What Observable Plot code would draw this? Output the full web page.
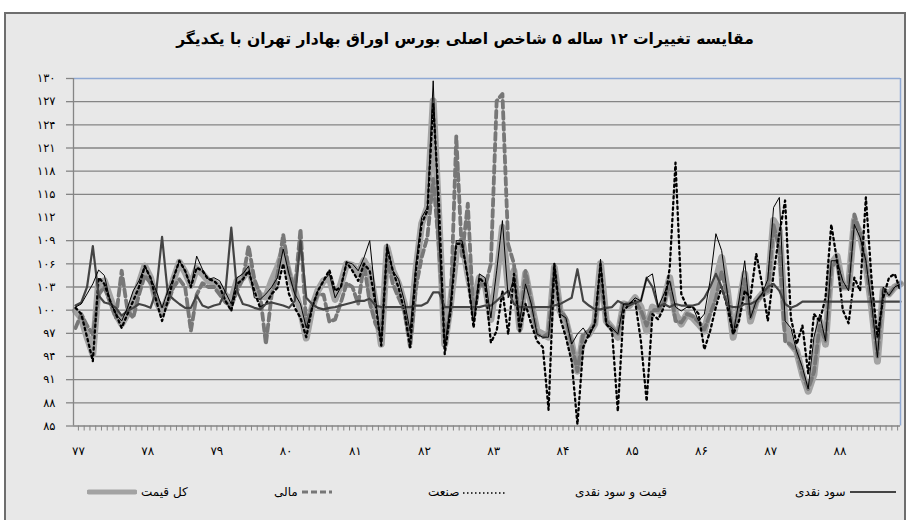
<!DOCTYPE html>
<html><head><meta charset="utf-8">
<script src="https://cdn.jsdelivr.net/npm/d3@7"></script>
<script src="https://cdn.jsdelivr.net/npm/@observablehq/plot@0.6"></script>
<style>
body{margin:0;background:#fff;width:908px;height:520px;overflow:hidden;position:relative;font-family:"DejaVu Sans",sans-serif;}
#box{position:absolute;left:4px;top:12px;width:898px;height:520px;border:2px solid #6e6e6e;background:#e8e8e8;}
#title{position:absolute;left:14px;top:30px;width:902px;text-align:center;font-weight:bold;font-size:15.5px;direction:rtl;color:#000;}
#chart{position:absolute;left:0;top:0;}
#legend{position:absolute;left:0;top:480px;width:908px;height:24px;font-size:12px;}
#legend .it{position:absolute;top:0;height:24px;display:flex;align-items:center;gap:4px;direction:ltr;}
</style></head>
<body>
<div id="box"></div>
<div id="title">مقایسه تغییرات ۱۲ ساله ۵ شاخص اصلی بورس اوراق بهادار تهران با یکدیگر</div>
<div id="chart"></div>
<div id="legend"></div>
<script>
// Years (category labels) and y tick values
const years = [77,78,79,80,81,82,83,84,85,86,87,88];
const yTicks = [85,88,91,94,97,100,103,106,109,112,115,118,121,124,127,130];

// کل قیمت
const kolGheymat = [99.9,99.0,96.5,94.3,103.6,103.8,101.6,99.5,98.2,99.5,101.2,103.4,105.7,104.2,101.2,99.7,101.6,104.0,106.2,104.9,103.2,105.4,104.7,103.8,
103.6,103.0,101.9,101.2,103.8,104.2,105.4,103.0,101.9,101.7,103.8,105.5,107.7,104.7,102.5,100.0,96.4,100.3,102.5,103.8,104.2,101.4,103.4,106.0,
105.8,104.7,106.4,105.1,100.8,95.6,108.1,105.1,103.4,100.8,96.9,105.1,111.2,113.3,127.1,111.6,95.6,100.8,107.5,109.0,104.7,100.8,104.2,103.4,
98.8,104.2,110.7,102.9,105.1,97.7,104.7,100.8,97.3,96.9,96.5,105.5,99.9,98.6,95.6,92.1,96.5,96.9,98.2,106.0,98.6,97.7,96.5,100.8,
100.6,101.6,100.4,97.3,100.4,99.9,101.2,104.2,99.5,98.2,99.5,99.0,98.2,97.3,100.4,103.8,106.8,102.5,96.5,100.4,104.7,98.6,101.2,102.1,
102.5,111.6,110.3,98.2,95.6,94.7,91.7,89.5,91.7,98.6,95.6,106.0,107.0,103.0,103.0,111.6,109.9,106.0,100.3,93.4,102.5,102.1,103.0,103.4];

// مالی
const mali = [97.7,99.5,98.0,96.9,102.0,103.0,101.0,99.0,105.1,100.0,99.0,102.0,104.5,103.5,101.5,100.5,101.0,103.0,104.0,103.0,97.3,102.0,103.5,103.0,
103.0,102.0,101.0,100.5,102.5,104.0,108.3,104.0,102.0,95.6,102.0,104.5,109.8,105.0,102.5,110.5,98.0,100.5,102.0,102.0,98.5,98.8,101.0,103.5,
103.0,100.8,106.0,101.0,98.2,96.9,106.8,103.4,101.6,99.9,95.2,102.9,106.8,109.5,117.0,108.0,96.0,100.0,122.5,107.0,113.8,99.0,103.5,103.0,
106.0,127.1,128.0,108.5,106.0,97.3,105.1,101.0,96.9,96.5,97.0,105.5,100.0,99.0,95.6,92.1,96.9,97.3,98.2,104.2,98.6,97.7,96.9,100.8,
100.8,101.2,100.0,98.0,100.0,100.0,101.0,103.5,98.6,98.4,99.5,99.2,98.5,97.5,99.5,101.5,105.0,102.0,97.0,100.4,104.0,99.0,101.0,102.0,
102.5,111.0,108.0,96.0,95.5,94.7,91.7,89.8,92.0,98.0,96.0,105.5,106.5,103.0,103.0,112.4,110.0,106.0,100.5,94.0,102.5,102.0,103.0,103.5];

// صنعت
const sanat = [100.3,99.5,96.5,93.4,104.2,103.4,101.2,99.5,97.7,99.5,101.2,103.0,105.7,104.2,101.2,98.6,101.2,104.2,106.4,105.1,103.0,105.5,105.1,104.0,
103.8,103.0,101.2,99.9,103.4,104.0,105.1,102.5,100.3,100.8,102.1,102.9,106.0,102.1,100.3,99.0,96.5,100.3,102.5,103.8,105.2,102.5,103.0,106.2,
105.1,103.8,106.0,105.1,100.8,95.4,108.1,105.1,102.9,99.9,95.2,105.1,111.2,112.9,126.7,113.7,94.3,99.9,108.6,108.6,104.2,97.7,104.2,103.4,
95.8,97.3,102.5,96.9,104.7,97.3,100.8,98.2,96.0,95.2,87.1,106.0,99.0,96.5,93.4,85.2,95.2,96.9,98.2,106.0,98.2,97.3,86.9,99.9,
100.8,101.2,96.0,88.2,99.5,98.8,100.4,105.5,119.1,102.1,100.4,100.4,99.5,94.9,97.3,100.4,103.0,100.4,96.9,98.6,102.5,101.6,107.3,103.4,
98.6,104.7,109.9,114.2,99.0,95.6,98.0,91.8,99.5,98.6,101.6,111.1,106.4,100.0,98.3,104.2,102.5,114.6,103.8,96.5,101.6,104.2,104.7,102.5];

// قیمت و سود نقدی
const gheymatSood = [100.4,100.8,102.1,103.4,105.2,104.5,101.2,99.5,98.6,100.3,102.5,103.8,105.7,104.2,102.5,100.3,102.5,104.2,106.4,105.1,103.0,107.0,105.3,104.0,
104.2,103.8,102.3,100.8,104.2,104.7,105.7,101.6,101.4,102.1,103.0,104.2,107.9,104.7,102.1,100.8,97.7,100.3,102.5,103.8,104.7,101.6,103.0,106.2,
106.0,105.1,106.8,109.0,101.6,95.4,108.6,105.1,104.0,101.2,97.3,106.0,112.0,113.3,129.7,109.4,95.2,100.8,109.0,109.0,104.2,98.2,104.7,104.2,
99.0,105.1,111.6,101.6,104.2,98.6,103.4,100.8,96.9,96.5,96.5,106.0,99.5,99.0,95.6,96.9,97.7,96.5,98.2,106.6,98.2,97.7,96.9,100.8,
100.8,101.6,101.2,104.2,104.7,100.4,102.1,103.8,100.4,99.9,100.4,100.4,98.6,99.5,103.8,109.9,107.7,102.1,96.9,101.2,106.4,99.0,101.2,102.1,
104.0,113.3,114.6,98.6,97.7,94.7,92.6,89.8,96.5,99.5,96.0,106.4,106.4,103.8,102.5,111.1,109.4,106.4,100.8,93.9,103.0,101.9,103.0,103.4];

// سود نقدی
const soodNaghdi = [100.6,101.0,103.0,108.3,101.9,101.0,100.8,100.3,99.3,99.9,100.3,100.8,100.6,100.3,102.5,109.5,102.1,101.4,100.8,100.3,100.3,101.9,100.6,100.3,
100.6,100.8,102.5,110.7,102.5,100.8,100.6,100.3,100.1,100.8,101.0,100.8,100.6,100.3,101.2,109.0,101.6,100.8,100.3,100.1,100.3,100.4,100.6,100.8,
101.0,101.2,101.2,101.5,100.6,100.4,100.4,100.4,100.4,100.4,100.4,100.6,100.6,101.0,102.3,102.3,100.4,100.4,100.4,100.4,100.4,100.4,100.4,100.6,
100.6,101.2,101.9,102.5,100.8,100.4,100.4,100.4,100.4,100.4,100.4,100.6,100.8,101.2,101.6,105.3,101.2,100.6,100.1,100.1,100.3,100.4,101.2,100.8,
100.6,101.0,101.2,104.2,103.0,100.4,100.8,100.4,100.8,100.6,100.6,100.6,100.8,101.6,103.0,104.7,103.0,100.6,100.4,100.4,100.8,100.8,101.2,102.1,
103.0,103.4,102.5,100.8,100.3,100.6,101.1,101.1,101.1,101.1,101.1,101.1,101.1,101.1,101.1,101.1,101.1,101.1,101.1,101.1,101.1,101.1,101.1,101.1];

const fa = v => String(v).replace(/\d/g, c => "۰۱۲۳۴۵۶۷۸۹"[+c]);
const idx = d3.range(kolGheymat.length);
const pts = arr => arr.map((v, i) => ({i, v}));

const gridVals = yTicks.filter(v => v !== 112 && v !== 130 && v !== 85);
const tickVals = yTicks.filter(v => v !== 112);
const xMin = -0.35, xMax = 143;

const plot = Plot.plot({
  width: 908, height: 470,
  marginTop: 78, marginBottom: 44.5, marginLeft: 73, marginRight: 8,
  style: {background: "transparent", fontFamily: "DejaVu Sans, sans-serif", fontSize: "11px", color: "#000"},
  x: {domain: [xMin, xMax], axis: null},
  y: {domain: [85, 130], axis: null},
  marks: [
    Plot.ruleY(gridVals, {stroke: "#858585", strokeWidth: 1.3}),
    Plot.line(pts(kolGheymat), {x: "i", y: "v", stroke: "#a3a3a3", strokeWidth: 7, strokeLinejoin: "round", strokeLinecap: "round"}),
    Plot.line(pts(mali), {x: "i", y: "v", stroke: "#777", strokeWidth: 3.8, strokeDasharray: "7,4"}),
    Plot.line(pts(sanat), {x: "i", y: "v", stroke: "#000", strokeWidth: 2.3, strokeDasharray: "2.3,3.4"}),
    Plot.line(pts(soodNaghdi), {x: "i", y: "v", stroke: "#444", strokeWidth: 2.2, strokeLinejoin: "round"}),
    Plot.line(pts(gheymatSood), {x: "i", y: "v", stroke: "#000", strokeWidth: 1}),
    Plot.ruleY([130], {stroke: "#8fa9d4", strokeWidth: 1.5}),
    Plot.ruleX([xMax], {stroke: "#8fa9d4", strokeWidth: 1.5}),
    Plot.ruleX([xMin], {stroke: "#858585", strokeWidth: 1.3}),
    Plot.ruleY([85], {stroke: "#858585", strokeWidth: 1.3}),
    Plot.axisY({ticks: tickVals, tickFormat: () => "", tickSize: 7, stroke: "#858585", strokeWidth: 1.3, label: null}),
    Plot.axisY({ticks: yTicks, tickFormat: fa, tickSize: 0, tickPadding: 18, fill: "#000", fontSize: 11.5, label: null}),
    Plot.axisX({ticks: idx.map(i => i + 0.5).filter(v => v < xMax), tickFormat: () => "", tickSize: 5, stroke: "#858585", label: null}),
    Plot.axisX({ticks: years.map((y, k) => 12 * k + 0.5), tickFormat: (v) => fa(years[Math.round((v - 0.5) / 12)]), tickSize: 0, tickPadding: 20, fill: "#000", fontSize: 12, label: null})
  ]
});
document.getElementById("chart").appendChild(plot);

// legend
const legendItems = [
  {label: "کل قیمت", left: 87, sw: `<svg width="50" height="10"><line x1="2" y1="5" x2="48" y2="5" stroke="#a3a3a3" stroke-width="5" stroke-linecap="round"/></svg>`, symFirst: true},
  {label: "مالی", left: 274, sw: `<svg width="30" height="10"><line x1="0" y1="5" x2="30" y2="5" stroke="#777" stroke-width="3" stroke-dasharray="6,3"/></svg>`, symFirst: false},
  {label: "صنعت", left: 428, sw: `<svg width="42" height="10"><line x1="0" y1="6" x2="42" y2="6" stroke="#000" stroke-width="1.5" stroke-dasharray="1.5,2.5"/></svg>`, symFirst: false},
  {label: "قیمت و سود نقدی", left: 575, sw: "", symFirst: false},
  {label: "سود نقدی", left: 795, sw: `<svg width="46" height="10"><line x1="0" y1="5" x2="46" y2="5" stroke="#444" stroke-width="2"/></svg>`, symFirst: false}
];
const leg = document.getElementById("legend");
for (const it of legendItems) {
  const d = document.createElement("div");
  d.className = "it";
  d.style.left = it.left + "px";
  const t = `<span style="direction:rtl">${it.label}</span>`;
  d.innerHTML = it.symFirst ? it.sw + t : t + it.sw;
  leg.appendChild(d);
}
</script>
</body></html>
